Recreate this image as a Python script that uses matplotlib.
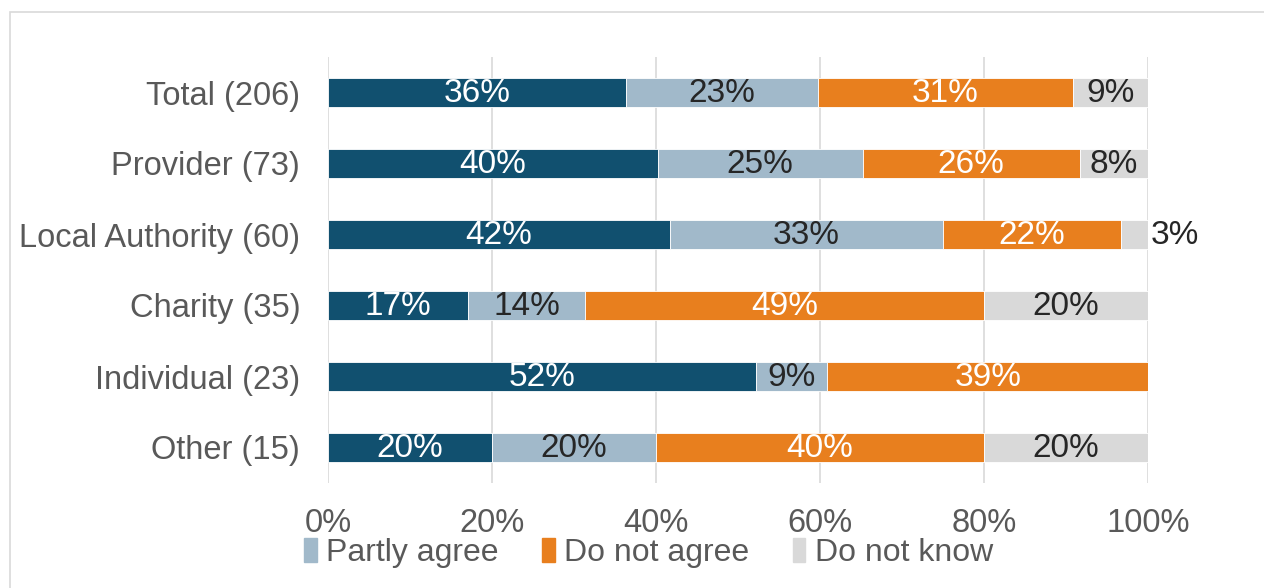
import numpy as np
import matplotlib.pyplot as plt
from matplotlib.patches import Rectangle, Patch

plt.rcParams['font.family'] = ['Liberation Sans', 'DejaVu Sans']

# survey groups, top to bottom
groups = ['Total (206)', 'Provider (73)', 'Local Authority (60)',
          'Charity (35)', 'Individual (23)', 'Other (15)']

# shares in percent
agree = [36.4, 40.2, 41.7, 17.1, 52.2, 20.0]
partly = [23.3, 25.0, 33.3, 14.3, 8.7, 20.0]
not_agree = [31.1, 26.5, 21.7, 48.6, 39.1, 40.0]
dont_know = [9.2, 8.3, 3.3, 20.0, 0.0, 20.0]

series = ['Agree', 'Partly agree', 'Do not agree', 'Do not know']
colors = ['#11506f', '#a1b9ca', '#e87f1e', '#d9d9d9']
text_colors = ['white', '#262626', 'white', '#262626']

fig = plt.figure(figsize=(12.64, 5.88), dpi=100)
# light frame of the chart area
fig.patches.append(Rectangle((10 / 1264, -0.1), 1.2, 1 - 12 / 588 + 0.1,
                             transform=fig.transFigure, fill=False,
                             edgecolor='#d9d9d9', linewidth=1.2))

ax = fig.add_axes([328 / 1264, 1 - 483 / 588, 820 / 1264, 426 / 588])

y = np.arange(len(groups))
left = np.zeros(len(groups))
data = [agree, partly, not_agree, dont_know]
for vals, name, col, tcol in zip(data, series, colors, text_colors):
    vals = np.array(vals)
    ax.barh(y, vals, left=left, height=0.4, color=col, label=name,
            edgecolor='white', linewidth=0.6, zorder=3)
    for yi, (l, v) in enumerate(zip(left, vals)):
        if v < 0.5:
            continue
        if v < 5:
            # too narrow, label sits outside the bar
            ax.text(l + v + 0.3, yi + 0.02, f'{v:.0f}%', ha='left',
                    va='center', fontsize=24, color='#262626', zorder=4)
        else:
            ax.text(l + v / 2, yi + 0.02, f'{v:.0f}%', ha='center',
                    va='center', fontsize=24, color=tcol, zorder=4)
    left = left + vals

ax.set_xlim(0, 100)
ax.set_ylim(len(groups) - 0.5, -0.5)
ax.set_yticks(y)
ax.set_yticklabels(groups)
ax.set_xticks(np.arange(0, 101, 20))
ax.set_xticklabels([f'{t}%' for t in range(0, 101, 20)])
ax.tick_params(axis='both', length=0, labelsize=23.5, labelcolor='#595959')
ax.tick_params(axis='y', pad=20)
ax.tick_params(axis='x', pad=18)
ax.grid(axis='x', color='#d9d9d9', linewidth=1.2, zorder=0)
for s in ax.spines.values():
    s.set_visible(False)

handles = [Patch(color=c) for c in colors[1:]]
fig.legend(handles, series[1:], loc='center left',
           bbox_to_anchor=(304 / 1264, 1 - 553 / 588), ncol=3, frameon=False,
           fontsize=23, labelcolor='#595959', handlelength=0.4,
           handleheight=0.75, handletextpad=0.3, columnspacing=1.35,
           borderaxespad=0, borderpad=0)

fig.savefig('out.png', dpi=100)
